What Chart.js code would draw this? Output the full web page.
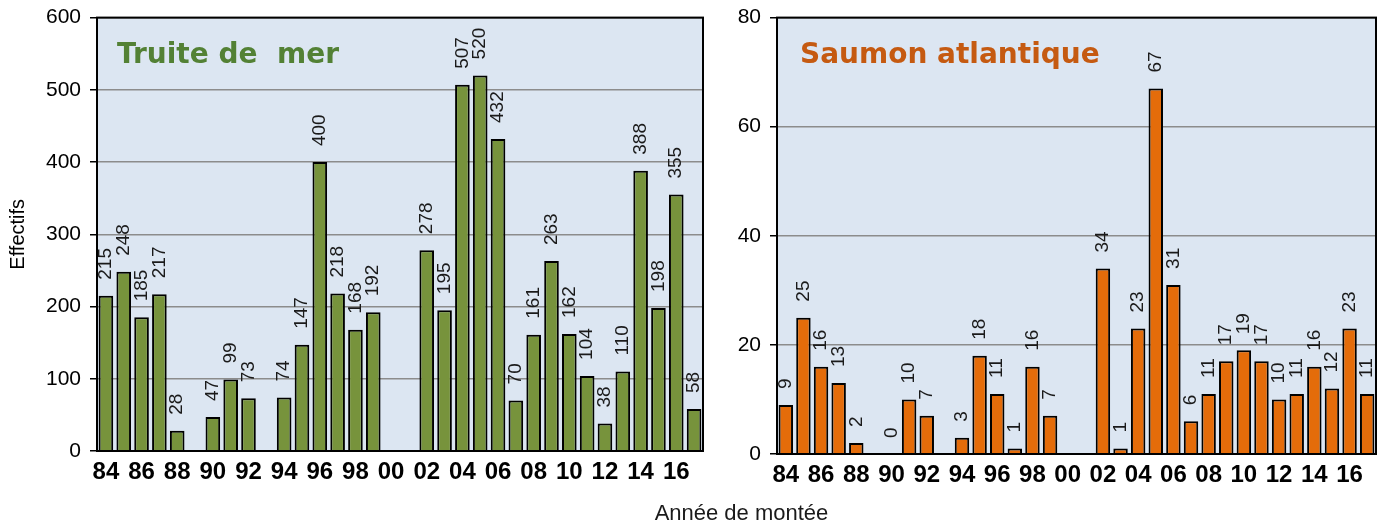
<!DOCTYPE html>
<html>
<head>
<meta charset="utf-8">
<script src="https://cdn.jsdelivr.net/npm/chart.js@4"></script>
<style>
    body { margin: 0; background: #fff; overflow: hidden; }
    #wrap { position: relative; width: 1384px; height: 526px; overflow: hidden; }
    #leftBox { position: absolute; left: 0; top: -4px; width: 720px; height: 526px; }
    #rightBox { position: absolute; left: 720px; top: -4px; width: 664px; height: 526px; }
    #xTitle { position: absolute; left: 0; width: 1483px; top: 500px; text-align: center;
              font: 22px "Liberation Sans", Arial, sans-serif; color: #1a1a1a; }
</style>
</head>
<body>
<div id="wrap">
    <div id="leftBox"><canvas id="truiteChart" width="720" height="526"></canvas></div>
    <div id="rightBox"><canvas id="saumonChart" width="664" height="526"></canvas></div>
    <div id="xTitle">Année de montée</div>
</div>
<script>
const years = ['84','85','86','87','88','89','90','91','92','93','94','95','96','97','98','99','00',
               '01','02','03','04','05','06','07','08','09','10','11','12','13','14','15','16','17'];

const truiteValues = [215, 248, 185, 217, 28, null, 47, 99, 73, null, 74, 147, 400, 218, 168, 192, null,
                      null, 278, 195, 507, 520, 432, 70, 161, 263, 162, 104, 38, 110, 388, 198, 355, 58];

const saumonValues = [9, 25, 16, 13, 2, null, 0, 10, 7, null, 3, 18, 11, 1, 16, 7, null,
                      null, 34, 1, 23, 67, 31, 6, 11, 17, 19, 17, 10, 11, 16, 12, 23, 11];

const truiteTicks = [0, 100, 200, 300, 400, 500, 600];
const saumonTicks = [0, 20, 40, 60, 80];

document.addEventListener('DOMContentLoaded', function() {

    // plot background, frame, in-plot title and rotated value labels
    const panelPlugin = {
        id: 'panel',
        beforeDraw(chart) {
            const a = chart.chartArea, ctx = chart.ctx;
            ctx.save();
            ctx.fillStyle = '#dce6f2';
            ctx.fillRect(a.left, a.top, a.right - a.left, a.bottom - a.top);
            ctx.restore();
        },
        afterDatasetsDraw(chart) {
            const a = chart.chartArea, ctx = chart.ctx;
            const opts = chart.options.plugins.panel;
            const vals = chart.data.datasets[0].data;
            const meta = chart.getDatasetMeta(0);

            ctx.save();
            ctx.font = '19px "Liberation Sans", Arial, sans-serif';
            ctx.fillStyle = '#1a1a1a';
            ctx.textAlign = 'left';
            ctx.textBaseline = 'middle';
            meta.data.forEach(function(bar, i) {
                if (vals[i] === null) return;
                ctx.save();
                ctx.translate(bar.x, bar.y - 16);
                ctx.rotate(-Math.PI / 2);
                ctx.fillText(String(vals[i]), 0, 0);
                ctx.restore();
            });

            ctx.strokeStyle = '#000';
            ctx.lineWidth = 2;
            ctx.strokeRect(a.left, a.top, a.right - a.left, a.bottom - a.top);

            ctx.font = 'bold 28px "DejaVu Sans", sans-serif';
            ctx.fillStyle = opts.color;
            ctx.textBaseline = 'alphabetic';
            ctx.fillText(opts.text, a.left + opts.dx, a.top + 45);
            ctx.restore();
        }
    };

    function makeChart(canvasId, values, ticks, color, title, cfg) {
        const ctx = document.getElementById(canvasId).getContext('2d');
        return new Chart(ctx, {
            type: 'bar',
            data: {
                labels: years,
                datasets: [{
                    data: values,
                    backgroundColor: color,
                    borderColor: '#000',
                    borderWidth: 2,
                    borderSkipped: 'bottom',
                    barPercentage: 0.82,
                    categoryPercentage: 1
                }]
            },
            options: {
                responsive: false,
                devicePixelRatio: 1,
                animation: false,
                layout: { padding: { left: 0, right: cfg.right, top: 12, bottom: cfg.bottom } },
                plugins: {
                    legend: { display: false },
                    tooltip: { enabled: false },
                    panel: { text: title.text, color: title.color, dx: title.dx }
                },
                scales: {
                    x: {
                        grid: { display: false, drawTicks: false },
                        border: { display: false },
                        ticks: {
                            autoSkip: false,
                            maxRotation: 0,
                            padding: 7,
                            color: '#000',
                            font: { family: '"Liberation Sans", Arial, sans-serif', size: 24, weight: 'bold' },
                            callback: function(v, i) { return i % 2 === 0 ? years[i] : ''; }
                        },
                        afterFit: function(s) { s.height = 40; }
                    },
                    y: {
                        min: ticks[0],
                        max: ticks[ticks.length - 1],
                        afterBuildTicks: function(s) { s.ticks = ticks.map(v => ({ value: v })); },
                        grid: { color: '#8c8c8c', lineWidth: 1.5, tickLength: 7, tickColor: '#000' },
                        border: { display: false },
                        ticks: {
                            padding: 9,
                            color: '#000',
                            font: { family: '"Liberation Sans", Arial, sans-serif', size: 21 }
                        },
                        title: {
                            display: cfg.yTitle !== '',
                            text: cfg.yTitle,
                            color: '#000',
                            font: { family: '"Liberation Sans", Arial, sans-serif', size: 20 },
                            padding: { top: 6, bottom: 0 }
                        },
                        afterFit: function(s) { s.width = cfg.yWidth; }
                    }
                }
            },
            plugins: [panelPlugin]
        });
    }

    makeChart('truiteChart', truiteValues, truiteTicks, '#77933c',
        { text: 'Truite de  mer', color: '#538135', dx: 20 },
        { right: 17, bottom: 31, yWidth: 97, yTitle: 'Effectifs' });

    makeChart('saumonChart', saumonValues, saumonTicks, '#e46c0a',
        { text: 'Saumon atlantique', color: '#c55a11', dx: 23 },
        { right: 8, bottom: 28, yWidth: 57, yTitle: '' });
});
</script>
</body>
</html>
